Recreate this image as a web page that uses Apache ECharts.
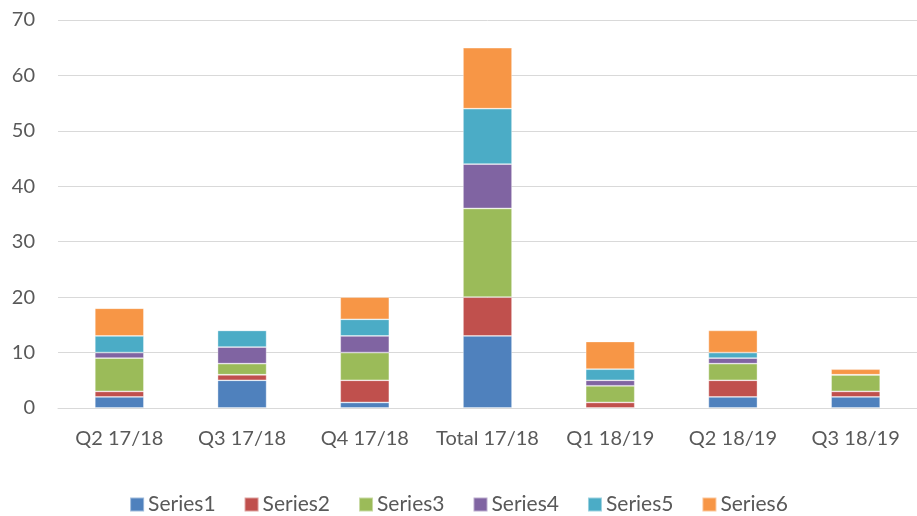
<!DOCTYPE html>
<html>
<head>
<meta charset="utf-8">
<script src="https://cdn.jsdelivr.net/npm/echarts@6/dist/echarts.min.js"></script>
<style>
  html, body { margin: 0; padding: 0; background: #fff; }
  #chart { width: 917px; height: 516px; }
</style>
</head>
<body>
<div id="chart"></div>
<script>
// Quarterly categories and stacked series values
const categories = ['Q2 17/18', 'Q3 17/18', 'Q4 17/18', 'Total 17/18', 'Q1 18/19', 'Q2 18/19', 'Q3 18/19'];
const series1 = [2, 5, 1, 13, 0, 2, 2];
const series2 = [1, 1, 4, 7, 1, 3, 1];
const series3 = [6, 2, 5, 16, 3, 3, 3];
const series4 = [1, 3, 3, 8, 1, 1, 0];
const series5 = [3, 3, 3, 10, 2, 1, 0];
const series6 = [5, 0, 4, 11, 5, 4, 1];
const seriesNames = ['Series1', 'Series2', 'Series3', 'Series4', 'Series5', 'Series6'];
const seriesColors = ['#4F81BD', '#C0504D', '#9BBB59', '#8064A2', '#4BACC6', '#F79646'];
const yTicks = { min: 0, max: 70, interval: 10 };

const allValues = [series1, series2, series3, series4, series5, series6];
const font = 'Lato, "Open Sans", sans-serif';

const chart = echarts.init(document.getElementById('chart'));
chart.setOption({
  animation: false,
  color: seriesColors,
  grid: { left: 58, top: 20, width: 861, bottom: 108, containLabel: false },
  legend: {
    bottom: 1,
    left: 'center',
    padding: 0,
    itemWidth: 14,
    itemHeight: 14,
    itemGap: 28,
    icon: 'rect',
    textStyle: { color: '#595959', fontSize: 21, fontFamily: font, padding: [0, 0, 0, -1] },
    data: seriesNames
  },
  xAxis: {
    type: 'category',
    data: categories,
    axisLine: { show: true, lineStyle: { color: '#d9d9d9', width: 1 } },
    axisTick: { show: false },
    axisLabel: { interval: 0, color: '#595959', fontSize: 20, fontFamily: font, margin: 21 }
  },
  yAxis: {
    type: 'value',
    min: yTicks.min,
    max: yTicks.max,
    interval: yTicks.interval,
    axisLine: { show: false },
    axisTick: { show: false },
    axisLabel: { color: '#595959', fontSize: 20, fontFamily: font, margin: 23 },
    splitLine: { lineStyle: { color: '#d9d9d9', width: 1 } }
  },
  series: allValues.map((vals, i) => ({
    name: seriesNames[i],
    type: 'bar',
    stack: 'total',
    barWidth: '40%',
    data: vals,
    itemStyle: { borderColor: 'rgba(255,255,255,0.45)', borderWidth: 0.8 }
  }))
});
</script>
</body>
</html>
